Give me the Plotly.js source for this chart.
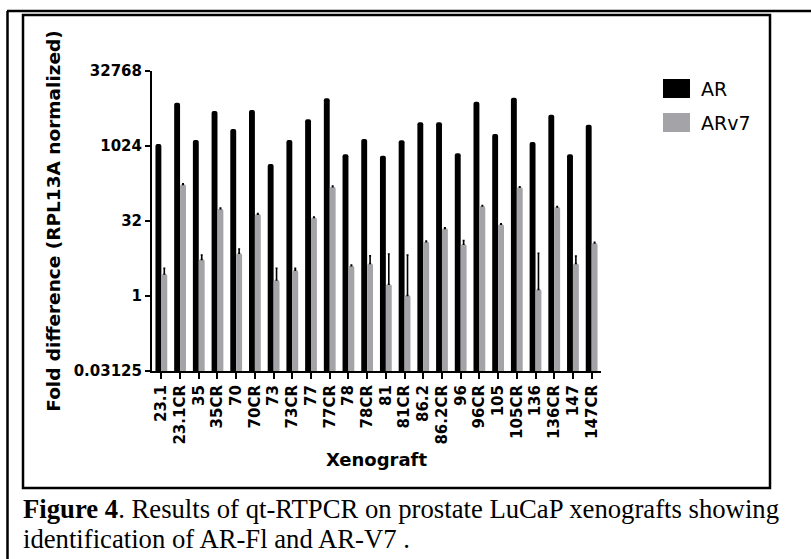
<!DOCTYPE html>
<html>
<head>
<meta charset="utf-8">
<script src="https://cdn.plot.ly/plotly-3.0.1.min.js"></script>
<style>html,body{margin:0;padding:0;background:#fff;}#chart{width:811px;height:559px;}</style>
</head>
<body>
<div id="chart"></div>
<script>
// Data
const categories = ["23.1","23.1CR","35","35CR","70","70CR","73","73CR","77","77CR","78","78CR","81","81CR","86.2","86.2CR","96","96CR","105","105CR","136","136CR","147","147CR"];
const arValues = [1120, 7570, 1350, 5150, 2240, 5400, 446, 1350, 3520, 9300, 698, 1415, 653, 1332, 3060, 3060, 730, 7940, 1783, 9540, 1232, 4350, 698, 2740];
const arv7Values = [2.77, 174, 5.44, 56.5, 7.2, 44, 2.1, 3.3, 37.5, 156, 4.06, 4.5, 1.72, 1.03, 12.3, 22.8, 10.9, 64, 27.5, 152, 1.36, 61, 4.5, 11.6];
const arv7ErrUp = [0.83, 4, 1.16, 1.5, 1.6, 1, 1.5, 0.3, 0.8, 4, 0.1, 1.9, 5.25, 5.57, 0.3, 0.5, 2.0, 1.5, 0.6, 4, 5.84, 1.5, 1.8, 0.3];
const seriesNames = ["AR", "ARv7"];
const yTickVals = [0.03125, 1, 32, 1024, 32768];
const yTickText = ["0.03125", "1", "32", "1024", "32768"];
const captionLine1 = "<b>Figure 4</b>. Results of qt-RTPCR on prostate LuCaP xenografts showing";
const captionLine2 = "identification of AR-Fl and AR-V7 .";

const ML = 152, MT = 71, PW = 449, PH = 300, W = 811, H = 559;
const px = x => (x - ML) / PW;
const py = y => (MT + PH - y) / PH;
const BLACK = "#000000", GRAY = "#a4a4a8";

const traces = [
  {
    type: "bar", name: seriesNames[0], x: categories, y: arValues,
    marker: {color: BLACK, cornerradius: 3, line: {width: 0}},
    showlegend: false, hoverinfo: "x+y"
  },
  {
    type: "bar", name: seriesNames[1], x: categories, y: arv7Values,
    marker: {color: GRAY, cornerradius: 3, line: {width: 0}},
    error_y: {type: "data", symmetric: false, array: arv7ErrUp,
              arrayminus: arv7ErrUp.map(() => 0), color: BLACK, thickness: 1.6, width: 1},
    showlegend: false, hoverinfo: "x+y"
  }
];

const boldFont = (size) => ({family: "DejaVu Sans", size: size, color: "#000", weight: "bold"});

const layout = {
  width: W, height: H,
  margin: {l: ML, r: W - ML - PW, t: MT, b: H - MT - PH, pad: 0},
  paper_bgcolor: "#fff", plot_bgcolor: "#fff",
  barmode: "group", bargap: 0.37, bargroupgap: 0,
  showlegend: false,
  xaxis: {
    type: "category", range: [-0.5, 23.5],
    showline: true, linecolor: BLACK, linewidth: 2,
    ticks: "outside", ticklen: 6, tickwidth: 2, tickcolor: BLACK,
    tickangle: -90, tickfont: boldFont(15),
    showgrid: false, zeroline: false, automargin: false,
    title: {text: "Xenograft", font: boldFont(18), standoff: 10}
  },
  yaxis: {
    type: "log", range: [Math.log10(0.03125), Math.log10(32768)],
    tickvals: yTickVals, ticktext: yTickText,
    showline: true, linecolor: BLACK, linewidth: 2,
    ticks: "outside", ticklen: 5, tickwidth: 2, tickcolor: BLACK,
    tickfont: boldFont(15),
    showgrid: false, zeroline: false, automargin: false,
    title: {text: "Fold difference (RPL13A normalized)", font: boldFont(18.5), standoff: 8}
  },
  shapes: [
    {type: "line", xref: "paper", yref: "paper", x0: px(7), x1: px(811), y0: py(11), y1: py(11), line: {color: BLACK, width: 2.5}},
    {type: "line", xref: "paper", yref: "paper", x0: px(7.5), x1: px(7.5), y0: py(11), y1: py(559), line: {color: BLACK, width: 2.5}},
    {type: "rect", xref: "paper", yref: "paper", x0: px(23), x1: px(770), y0: py(15), y1: py(488), line: {color: BLACK, width: 2.5}},
    {type: "rect", xref: "paper", yref: "paper", x0: px(663), x1: px(690), y0: py(79), y1: py(98), fillcolor: BLACK, line: {width: 0}},
    {type: "rect", xref: "paper", yref: "paper", x0: px(663), x1: px(690), y0: py(113), y1: py(132), fillcolor: GRAY, line: {width: 0}}
  ],
  annotations: [
    {xref: "paper", yref: "paper", x: px(699), y: py(89), xanchor: "left", yanchor: "middle", showarrow: false,
     text: seriesNames[0], font: {family: "DejaVu Sans", size: 19, color: "#000"}},
    {xref: "paper", yref: "paper", x: px(699), y: py(123), xanchor: "left", yanchor: "middle", showarrow: false,
     text: seriesNames[1], font: {family: "DejaVu Sans", size: 19, color: "#000"}},
    {xref: "paper", yref: "paper", x: px(21), y: py(509), xanchor: "left", yanchor: "middle", showarrow: false,
     text: captionLine1, font: {family: "Liberation Serif", size: 26.7, color: "#000"}},
    {xref: "paper", yref: "paper", x: px(21), y: py(539), xanchor: "left", yanchor: "middle", showarrow: false,
     text: captionLine2, font: {family: "Liberation Serif", size: 26.7, color: "#000"}}
  ]
};

Plotly.newPlot("chart", traces, layout, {displayModeBar: false, staticPlot: true});
</script>
</body>
</html>
